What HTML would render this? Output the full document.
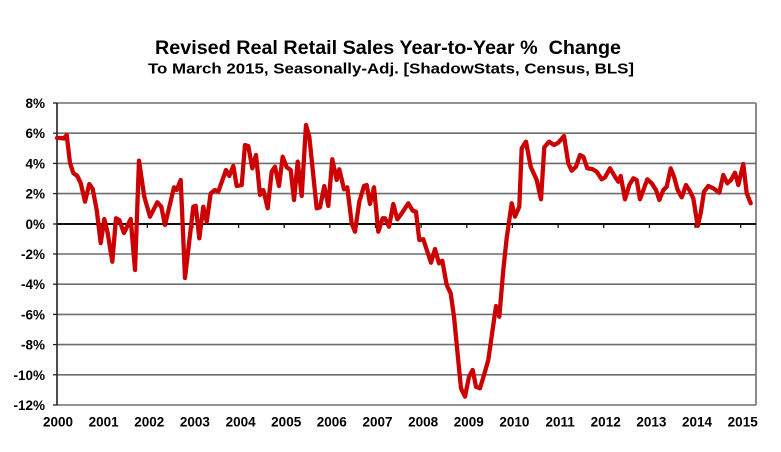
<!DOCTYPE html>
<html>
<head>
<meta charset="utf-8">
<style>
  html, body { margin: 0; padding: 0; background: #ffffff; }
  svg { display: block; }
  text { font-family: "Liberation Sans", Arial, sans-serif; font-weight: bold; fill: #000; }
</style>
</head>
<body>
<svg width="781" height="452" viewBox="0 0 781 452" xmlns="http://www.w3.org/2000/svg">
  <rect x="0" y="0" width="781" height="452" fill="#ffffff"/>

  <!-- Titles -->
  <text x="388" y="54" font-size="19" text-anchor="middle" textLength="466" lengthAdjust="spacingAndGlyphs" xml:space="preserve" style="white-space:pre">Revised Real Retail Sales Year-to-Year %  Change</text>
  <text x="391" y="73.5" font-size="14.5" text-anchor="middle" textLength="486" lengthAdjust="spacingAndGlyphs">To March 2015, Seasonally-Adj. [ShadowStats, Census, BLS]</text>

  <!-- Gridlines -->
  <g stroke="#6e6e6e" stroke-width="1.6">
    <line x1="57" y1="103" x2="756" y2="103"/>
    <line x1="57" y1="133.2" x2="756" y2="133.2"/>
    <line x1="57" y1="163.4" x2="756" y2="163.4"/>
    <line x1="57" y1="193.6" x2="756" y2="193.6"/>
    <line x1="57" y1="254" x2="756" y2="254"/>
    <line x1="57" y1="284.2" x2="756" y2="284.2"/>
    <line x1="57" y1="314.4" x2="756" y2="314.4"/>
    <line x1="57" y1="344.6" x2="756" y2="344.6"/>
    <line x1="57" y1="374.8" x2="756" y2="374.8"/>
    <line x1="57" y1="405" x2="756" y2="405"/>
    <line x1="756" y1="103" x2="756" y2="405"/>
  </g>
  <!-- Zero line -->
  <line x1="57" y1="224" x2="756" y2="224" stroke="#111" stroke-width="2"/>
  <!-- Left axis -->
  <line x1="57" y1="103" x2="57" y2="405" stroke="#222" stroke-width="1.6"/>
  <!-- Y ticks -->
  <g stroke="#222" stroke-width="1.3">
    <line x1="53" y1="103" x2="57" y2="103"/>
    <line x1="53" y1="133.2" x2="57" y2="133.2"/>
    <line x1="53" y1="163.4" x2="57" y2="163.4"/>
    <line x1="53" y1="193.6" x2="57" y2="193.6"/>
    <line x1="53" y1="224" x2="57" y2="224"/>
    <line x1="53" y1="254" x2="57" y2="254"/>
    <line x1="53" y1="284.2" x2="57" y2="284.2"/>
    <line x1="53" y1="314.4" x2="57" y2="314.4"/>
    <line x1="53" y1="344.6" x2="57" y2="344.6"/>
    <line x1="53" y1="374.8" x2="57" y2="374.8"/>
    <line x1="53" y1="405" x2="57" y2="405"/>
  </g>
  <!-- X ticks on zero line -->
  <g stroke="#111" stroke-width="1.3">
    <line x1="101.6" y1="224" x2="101.6" y2="228"/>
    <line x1="147.3" y1="224" x2="147.3" y2="228"/>
    <line x1="192.9" y1="224" x2="192.9" y2="228"/>
    <line x1="238.6" y1="224" x2="238.6" y2="228"/>
    <line x1="284.2" y1="224" x2="284.2" y2="228"/>
    <line x1="329.8" y1="224" x2="329.8" y2="228"/>
    <line x1="375.5" y1="224" x2="375.5" y2="228"/>
    <line x1="421.1" y1="224" x2="421.1" y2="228"/>
    <line x1="466.8" y1="224" x2="466.8" y2="228"/>
    <line x1="512.4" y1="224" x2="512.4" y2="228"/>
    <line x1="558.1" y1="224" x2="558.1" y2="228"/>
    <line x1="603.7" y1="224" x2="603.7" y2="228"/>
    <line x1="649.4" y1="224" x2="649.4" y2="228"/>
    <line x1="695" y1="224" x2="695" y2="228"/>
    <line x1="740.7" y1="224" x2="740.7" y2="228"/>
  </g>

  <!-- Y labels -->
  <g font-size="13.5" text-anchor="end">
    <text x="45" y="108">8%</text>
    <text x="45" y="138.2">6%</text>
    <text x="45" y="168.4">4%</text>
    <text x="45" y="198.6">2%</text>
    <text x="45" y="229">0%</text>
    <text x="45" y="259">-2%</text>
    <text x="45" y="289.2">-4%</text>
    <text x="45" y="319.4">-6%</text>
    <text x="45" y="349.6">-8%</text>
    <text x="45" y="379.8">-10%</text>
    <text x="45" y="410">-12%</text>
  </g>

  <!-- X labels -->
  <g font-size="13.5" text-anchor="middle">
    <text x="58" y="426.5">2000</text>
    <text x="103.6" y="426.5">2001</text>
    <text x="149.3" y="426.5">2002</text>
    <text x="194.9" y="426.5">2003</text>
    <text x="240.6" y="426.5">2004</text>
    <text x="286.2" y="426.5">2005</text>
    <text x="331.8" y="426.5">2006</text>
    <text x="377.5" y="426.5">2007</text>
    <text x="423.1" y="426.5">2008</text>
    <text x="468.8" y="426.5">2009</text>
    <text x="514.4" y="426.5">2010</text>
    <text x="560.1" y="426.5">2011</text>
    <text x="605.7" y="426.5">2012</text>
    <text x="651.4" y="426.5">2013</text>
    <text x="697" y="426.5">2014</text>
    <text x="742.7" y="426.5">2015</text>
  </g>

  <!-- Series -->
  <polyline fill="none" stroke="#cc0000" stroke-width="4.3" stroke-linejoin="round" stroke-linecap="round"
    points="57,138 61,138 64,138.5 66.7,135 70,163 73.3,173 77.3,176 80.7,183 85,201.7 89.3,184 92.7,189 96.7,210 100.7,243 104.3,219 107.7,233 112.3,261.7 116,218.3 119.3,220 124,233 130.7,219 135,270 139,160.7 144.3,196.7 150,216.7 157.3,202.3 161.3,206.7 165,225 174,187.3 176.7,190 180.7,180 185,278 193.3,206.7 195.7,205.7 199.3,238.3 203.3,206.7 206.7,221.7 210.7,193.3 215,190 218.3,191.7 226,170 229.3,176 233.3,166 236.7,186 241.7,185 245,145 248.3,146 252.3,168.3 256,155 260,195 263.3,190 267.7,208.3 271.7,171.7 275,166.7 279,186 282.7,156.7 286.7,167.3 290.7,170 294,200 297.7,161.7 301.7,196 306,125 309.3,136.7 316.7,208.3 320,207.3 324.3,186 328.3,206 332.3,159.3 336.7,180 339.3,169.3 344,189.3 347.3,187.3 351.7,223.3 355,231.7 359.3,201.7 364,186 366.7,185 370,204 374,187.3 378.3,231.7 382.7,218.3 385,218.3 389,226.7 393.3,204 397.3,219.3 401.7,213.3 408.3,203.3 412.7,210.7 416,211.7 419.3,240 423.3,239.3 431,262.7 435,249 439,263.3 442.3,260.7 446.7,285 450.7,293.3 454,316.7 461,388.3 465,396.7 469,376.7 472.7,370 476,386.7 480,388.3 484,375 488.3,360 496,306 499.3,316.7 503.3,270 506.7,238 511.7,203.3 515,216.7 519.3,206.7 521.7,148.3 526,141.7 530.7,166.7 536.7,180 541,199.3 544.3,147.3 549,141.7 554,145 558.3,142.7 564,136 568.3,163.3 571.7,170.7 576,166.7 580,155 583.3,156.7 587.3,168.3 592.7,169.3 596.7,171.7 601.7,179.3 605,177.3 610,168.3 615,176.7 618.3,181.7 620.7,176 625,199.3 629.3,185 633.3,178.3 636.7,180 640,199.3 647.3,179.3 651.7,183.3 656,190 659.3,200 663.3,190 666.7,186.7 670.7,168.3 674,176.7 677.7,190 681.7,197.3 686,185 689.3,190 693.3,198.3 697.7,226 700.7,213.3 704,191.7 708.3,186 713.3,188.3 719.3,192.7 723.3,175 727.3,183.3 731,180 735,172.7 738.3,185 743.3,164 746.7,193.3 750.7,203.3"/>
</svg>
</body>
</html>
